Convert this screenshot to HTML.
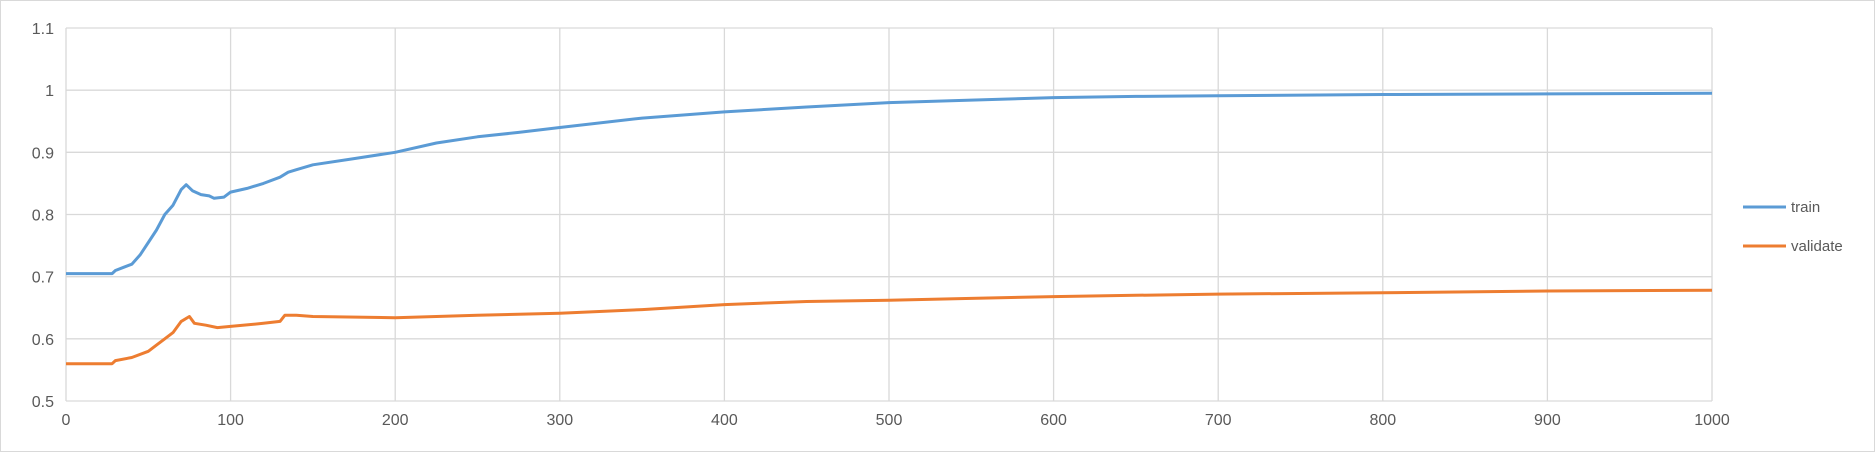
<!DOCTYPE html>
<html><head><meta charset="utf-8"><style>
html,body{margin:0;padding:0;background:#fff;}
svg{display:block;font-family:"Liberation Sans",sans-serif;}
</style></head><body>
<svg id="chart" width="1875" height="452">
<rect x="0.5" y="0.5" width="1874" height="451" fill="#fff" stroke="#d9d9d9"/>
<g id="grid"></g>
<g id="axes"></g>
<g id="series"></g>
<g id="legend"></g>
</svg>
<script>
const xTicks=[0,100,200,300,400,500,600,700,800,900,1000];
const yTicks=[0.5,0.6,0.7,0.8,0.9,1,1.1];
const yTickLabels=["0.5","0.6","0.7","0.8","0.9","1","1.1"];
const seriesNames=["train","validate"];
const trainX=[0,28,30,35,40,45,50,55,60,65,70,73,77,82,87,90,96,100,110,120,130,135,140,150,175,200,225,250,275,300,350,400,450,500,550,600,650,700,800,900,1000];
const trainY=[0.705,0.705,0.71,0.715,0.72,0.735,0.755,0.775,0.8,0.815,0.84,0.848,0.838,0.832,0.83,0.826,0.828,0.836,0.842,0.85,0.86,0.868,0.872,0.88,0.89,0.9,0.915,0.925,0.932,0.94,0.955,0.965,0.973,0.98,0.984,0.988,0.99,0.991,0.993,0.994,0.995];
const valX=[0,28,30,40,50,55,60,65,70,75,78,85,92,100,120,130,133,140,150,200,250,300,350,400,450,500,550,600,650,700,800,900,1000];
const valY=[0.56,0.56,0.565,0.57,0.58,0.59,0.6,0.61,0.628,0.636,0.625,0.622,0.618,0.62,0.625,0.628,0.638,0.638,0.636,0.634,0.638,0.641,0.647,0.655,0.66,0.662,0.665,0.668,0.67,0.672,0.674,0.677,0.678];
const colors=["#5b9bd5","#ed7d31"];
const L=66,R=1712,T=28,B=401;
const sx=v=>L+(v-0)/(1000-0)*(R-L);
const sy=v=>B-(v-0.5)/(1.1-0.5)*(B-T);
const NS="http://www.w3.org/2000/svg";
function mk(tag,attrs,parent,txt){const e=document.createElementNS(NS,tag);for(const k in attrs)e.setAttribute(k,attrs[k]);if(txt!==undefined)e.textContent=txt;parent.appendChild(e);return e;}
const grid=document.getElementById('grid'),axes=document.getElementById('axes'),ser=document.getElementById('series'),leg=document.getElementById('legend');
yTicks.forEach((t,i)=>{
  const l=mk('line',{x1:L,x2:R,y1:sy(t),y2:sy(t),stroke:'#d9d9d9','stroke-width':1.3},grid);
  
  
  const tx=mk('text',{x:L-12,y:sy(t)+6,'text-anchor':'end','font-size':16,fill:'#595959'},axes,yTickLabels[i]);
  
  
});
xTicks.forEach(t=>{
  const l=mk('line',{x1:sx(t),x2:sx(t),y1:T,y2:B,stroke:'#d9d9d9','stroke-width':1.3},grid);
  
  
  const tx=mk('text',{x:sx(t),y:B+24,'text-anchor':'middle','font-size':16,fill:'#595959'},axes,String(t));
  
  
});
function line(xs,ys,c,name){
  const d=xs.map((x,i)=>(i?'L':'M')+sx(x).toFixed(1)+','+sy(ys[i]).toFixed(1)).join(' ');
  const p=mk('path',{d:d,fill:'none',stroke:c,'stroke-width':3,'stroke-linejoin':'round'},ser);
  
  
}
line(trainX,trainY,colors[0],'train-line');
line(valX,valY,colors[1],'validate-line');
const ly=[207,246];
seriesNames.forEach((n,i)=>{
  const l=mk('line',{x1:1743,x2:1786,y1:ly[i],y2:ly[i],stroke:colors[i],'stroke-width':3},leg);
  
  
  const t=mk('text',{x:1791,y:ly[i]+5,'font-size':15,fill:'#595959'},leg,n);
  
  
});
</script>
</body></html>
